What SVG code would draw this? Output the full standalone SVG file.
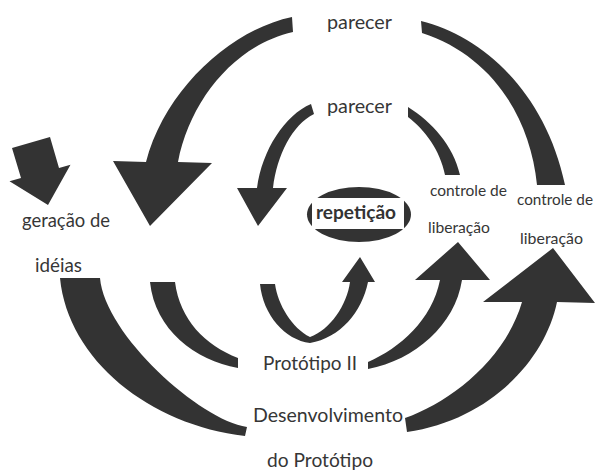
<svg xmlns="http://www.w3.org/2000/svg" width="595" height="470" viewBox="0 0 595 470">
  <style>
    .arrow { fill: #333333; stroke: none; }
    .lbl { font-family: Lato, "Liberation Sans", sans-serif; fill: #363636; font-size: 19px; }
    .sm { font-size: 16px; }
    .rep { font-weight: bold; fill: #333333; }
  </style>
  <rect width="595" height="470" fill="#ffffff"/>

  <!-- connectors: curved block arrows forming the two cycles -->
  <g id="connectors">
    <!-- outer cycle -->
    <path class="arrow" d="M292,17 C230,30 165,90 146,162 L113,161 L150,226 L212,163 L178,162 C190,100 235,45 293,32 Z"/>
    <path class="arrow" d="M421,21 C480,35 545,90 565,185 L537,185 C530,115 490,55 422,33 Z"/>
    <path class="arrow" d="M60,278 C68,360 150,425 245,436 L247,427 C200,420 105,335 100,278 Z"/>
    <path class="arrow" d="M405,418 C450,402 505,360 522,302 L483,302 L553,248 L595,303 L557,302 C545,360 490,420 407,432 Z"/>
    <!-- inner cycle -->
    <path class="arrow" d="M311,104 C285,115 262,150 257,188 L237,188 L258,226 L287,188 L273,188 C277,155 292,125 314,114 Z"/>
    <path class="arrow" d="M408,107 C432,122 453,145 460,175 L445,175 C440,150 425,130 408,117 Z"/>
    <path class="arrow" d="M150,282 C155,330 195,360 238,368 L238,358 C205,345 180,320 175,282 Z"/>
    <path class="arrow" d="M368,362 C400,348 432,320 440,280 L415,280 L458,242 L490,280 L462,280 C455,325 415,360 368,369 Z"/>
    <!-- loop back into repetição -->
    <path class="arrow" d="M260,284 C263,315 285,340 310,343 C340,338 362,312 368,282 L375,282 L360,257 L342,282 L350,282 C347,305 330,330 310,337 C292,328 278,305 275,284 Z"/>
    <!-- entry arrow -->
    <polygon class="arrow" points="12,148 50,137 59,168 70.5,164.8 48,205 9.5,181.2 21,178"/>
  </g>

  <!-- nodes -->
  <g id="node-parecer-outer">
    <text class="lbl" x="327" y="29" textLength="65" lengthAdjust="spacingAndGlyphs">parecer</text>
  </g>
  <g id="node-parecer-inner">
    <text class="lbl" x="327" y="113" textLength="65" lengthAdjust="spacingAndGlyphs">parecer</text>
  </g>
  <g id="node-geracao">
    <text class="lbl" x="22" y="227" textLength="88" lengthAdjust="spacingAndGlyphs">geração de</text>
    <text class="lbl" x="35" y="272" font-size="18" textLength="47" lengthAdjust="spacingAndGlyphs">idéias</text>
  </g>
  <g id="node-repeticao">
    <ellipse cx="359" cy="214.5" rx="52" ry="27.5" fill="#333333"/>
    <rect x="312" y="198" width="92" height="31" fill="#ffffff"/>
    <text class="lbl rep" x="316" y="219" textLength="80" lengthAdjust="spacingAndGlyphs">repetição</text>
  </g>
  <g id="node-controle-inner">
    <text class="lbl sm" x="430" y="196" textLength="77" lengthAdjust="spacingAndGlyphs">controle de</text>
    <text class="lbl sm" x="428" y="233" textLength="62" lengthAdjust="spacingAndGlyphs">liberação</text>
  </g>
  <g id="node-controle-outer">
    <text class="lbl sm" x="517" y="205" textLength="76" lengthAdjust="spacingAndGlyphs">controle de</text>
    <text class="lbl sm" x="520" y="244" textLength="63" lengthAdjust="spacingAndGlyphs">liberação</text>
  </g>
  <g id="node-prototipo-ii">
    <text class="lbl" x="263" y="370" textLength="94" lengthAdjust="spacingAndGlyphs">Protótipo II</text>
  </g>
  <g id="node-desenvolvimento">
    <text class="lbl" x="253" y="422" textLength="150" lengthAdjust="spacingAndGlyphs">Desenvolvimento</text>
    <text class="lbl" x="267" y="467" textLength="106" lengthAdjust="spacingAndGlyphs">do Protótipo</text>
  </g>
</svg>
